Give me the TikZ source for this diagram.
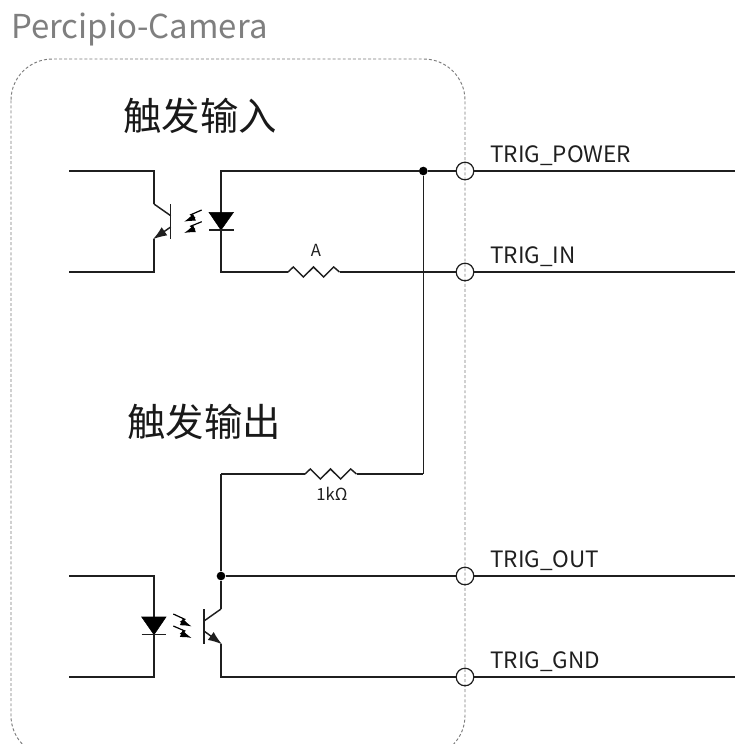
\documentclass[tikz,border=0pt]{standalone}
\usepackage{fontspec}
\setmainfont{Noto Sans CJK SC}
\usetikzlibrary{arrows.meta,calc}
\definecolor{titlegray}{HTML}{7F7F7F}
\definecolor{framegray}{HTML}{7A7A7A}
\tikzset{
    wire/.style={line width=1.1pt,black!88},
    port/.style={circle,draw,line width=.9pt,black!88,inner sep=0pt,minimum size=13.2pt},
    dot/.style={circle,fill=black,inner sep=0pt,minimum size=6.5pt},
    signal/.style={anchor=base west,font=\fontsize{16.9pt}{17pt}\selectfont,text=black!88},
    heading/.style={anchor=base west,font=\fontsize{28.8pt}{29pt}\selectfont,text=black!90},
    value/.style={font=\fontsize{12.5pt}{13pt}\selectfont,text=black!88},
    emitter/.style={wire,-{Latex[length=10.5pt,width=7.5pt]},shorten >=-1pt},
    ray/.style={line width=.9pt,-{Latex[length=8.5pt,width=5.5pt]},
        to path={-- ($(\tikztostart)!.62!(\tikztotarget)+(0,-2.5)$)
                 -- ($(\tikztostart)!.42!(\tikztotarget)+(0,2.5)$) -- (\tikztotarget)}},
    led/.style={fill=black,draw=black,line width=.4pt}
}
\newcommand{\Zigzag}[2]{
    \draw[wire] (#1) -- ++(5.3,-5) -- ++(10.1,10) -- ++(10.1,-10) -- ++(10.1,10) -- ++(10.1,-10) -- (#2);
}
\begin{document}
\begin{tikzpicture}[x=.75pt,y=-.75pt]
    \clip (0,0) rectangle (735,744);
    \draw[framegray,line width=.7pt,dash pattern=on 2.2pt off 1.6pt,rounded corners=31pt] (11,59) rectangle (465,757);

    \node[anchor=base west,font=\fontsize{24.7pt}{25pt}\selectfont,text=titlegray,inner sep=0pt] (title) at (11,38) {Percipio-Camera};
    \node[heading,inner sep=0pt] (inhead) at (123,130) {触发输入};
    \node[heading,inner sep=0pt] (outhead) at (127,436) {触发输出};

    \node[port] (power) at (465,171) {};
    \node[port] (trigin) at (465,272) {};
    \node[port] (trigout) at (465,576) {};
    \node[port] (gnd) at (465,677) {};
    \coordinate (powerend) at (735,171);
    \coordinate (inend) at (735,272);
    \coordinate (outend) at (735,576);
    \coordinate (gndend) at (735,677);
    \node[signal,inner sep=0pt] (powerlabel) at (490,162) {TRIG\_POWER};
    \node[signal,inner sep=0pt] (inlabel) at (490,263) {TRIG\_IN};
    \node[signal,inner sep=0pt] (outlabel) at (490,567) {TRIG\_OUT};
    \node[signal,inner sep=0pt] (gndlabel) at (490,668) {TRIG\_GND};
    \draw[wire] (power) -- (powerend);
    \draw[wire] (trigin) -- (inend);
    \draw[wire] (trigout) -- (outend);
    \draw[wire] (gnd) -- (gndend);

    \node[dot] (rail) at (423.3,171) {};
    \node[dot] (tap) at (221,576) {};
    \coordinate (railend) at (423.3,474);
    \coordinate (tapend) at (221,474);
    \draw[wire] (rail) -- (railend);
    \draw[wire] (tap) -- (tapend);
    \draw[wire] (rail) -- (power);
    \draw[wire] (tap) -- (trigout);

    \coordinate (ra) at (288,272); \coordinate (rb) at (339.5,272);
    \coordinate (rc) at (305,474); \coordinate (rd) at (356.5,474);
    \Zigzag{ra}{rb}
    \Zigzag{rc}{rd}
    \draw[wire] (tapend) -- (rc);
    \draw[wire] (rd) -- (railend);
    \draw[wire] (rb) -- (trigin);
    \node[value] (alabel) at (316,250) {A};
    \node[value] (klabel) at (332,494) {1kΩ};

    % input coupler
    \coordinate (ledtop) at (221,171); \coordinate (ledbot) at (221,272);
    \coordinate (lefta) at (69,171); \coordinate (leftb) at (69,272);
    \coordinate (ca) at (154,204); \coordinate (ea) at (154,238.5);
    \coordinate (cb) at (154,171); \coordinate (eb) at (154,272);
    \draw[wire] (lefta) -- (cb) -- (ca);
    \draw[wire] (ca) -- (170.7,215.7);
    \draw[wire] (ea) -- (eb) -- (leftb);
    \draw[emitter] (170.7,227) -- (ea);
    \draw[wire] (170.7,204) -- (170.7,239);
    \draw[wire] (rail) -- (ledtop) -- (ledbot) -- (ra);
    \draw[led] (209,212.3) -- (233.5,212.3) -- (221,230) -- cycle;
    \draw[wire] (209,230) -- (233.5,230);
    \draw[ray] (201.7,210) to (184,221.7);
    \draw[ray] (201.7,221.7) to (184,233);

    % output coupler
    \coordinate (leftc) at (69,576); \coordinate (leftd) at (69,677);
    \coordinate (cc) at (154,576); \coordinate (cd) at (154,677);
    \coordinate (ce) at (221,609); \coordinate (ef) at (221,643.5); \coordinate (eg) at (221,677);
    \draw[wire] (leftc) -- (cc) -- (cd) -- (leftd);
    \draw[wire] (tap) -- (ce);
    \draw[wire] (ce) -- (204,621);
    \draw[wire] (204,609) -- (204,644);
    \draw[emitter] (204,631) -- (ef);
    \draw[wire] (ef) -- (eg) -- (gnd);
    \draw[led] (141.7,617) -- (166,617) -- (154,634.7) -- cycle;
    \draw[wire] (141.7,634.7) -- (166,634.7);
    \draw[ray] (173.3,614) to (191.7,626.5);
    \draw[ray] (173.3,626) to (191.7,638);
\end{tikzpicture}
\end{document}
